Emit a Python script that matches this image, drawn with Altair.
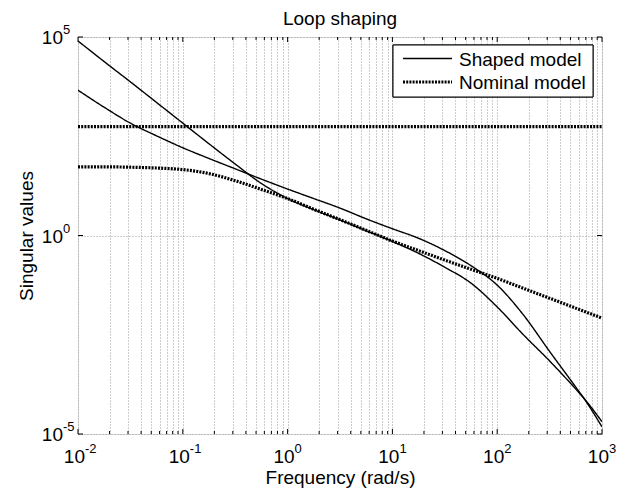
import altair as alt
import pandas as pd

# ---- data (log10 of frequency / singular value) ----
LOG_FREQ = [-2.0, -1.75, -1.5, -1.25, -1.0, -0.75, -0.5, -0.25, 0.0, 0.25, 0.5, 0.75,
            1.0, 1.25, 1.5, 1.75, 2.0, 2.25, 2.5, 2.75, 2.84, 3.0]
SHAPED_1 = [4.90, 4.38, 3.87, 3.35, 2.83, 2.31, 1.80, 1.31, 0.93, 0.65, 0.39, 0.12,
            -0.15, -0.45, -0.80, -1.20, -1.80, -2.50, -3.16, -3.87, -4.14, -4.69]
SHAPED_2 = [3.66, 3.23, 2.83, 2.51, 2.21, 1.94, 1.68, 1.42, 1.17, 0.93, 0.69, 0.42,
            0.17, -0.07, -0.38, -0.76, -1.25, -2.00, -2.92, -3.82, -4.15, -4.82]
NOMINAL_1 = [2.74, 2.74, 2.74, 2.74, 2.74, 2.74, 2.74, 2.74, 2.74, 2.74, 2.74, 2.74,
             2.74, 2.74, 2.74, 2.74, 2.74, 2.74, 2.74, 2.74, 2.74, 2.74]
NOMINAL_2 = [1.73, 1.73, 1.72, 1.70, 1.66, 1.56, 1.38, 1.16, 0.93, 0.66, 0.40, 0.13,
             -0.14, -0.38, -0.62, -0.85, -1.08, -1.33, -1.58, -1.83, -1.92, -2.08]

MODELS = ["Shaped model", "Nominal model"]
DASHES = [[1, 0], [2, 1.2]]
WIDTHS = [1.4, 3.2]
X_DECADES = [1e-2, 1e-1, 1e0, 1e1, 1e2, 1e3]
X_EXPONENTS = ["-2", "-1", "0", "1", "2", "3"]
X_MINOR = [m * d for d in [1e-2, 1e-1, 1e0, 1e1, 1e2] for m in range(2, 10)]
Y_DECADES = [1e-5, 1e0, 1e5]
Y_EXPONENTS = ["-5", "0", "5"]
TITLE = "Loop shaping"
X_TITLE = "Frequency (rad/s)"
Y_TITLE = "Singular values"

FONT = "Liberation Sans"
W, H = 524, 397

rows = []
for name, model, vals in [("s1", MODELS[0], SHAPED_1), ("s2", MODELS[0], SHAPED_2),
                          ("n1", MODELS[1], NOMINAL_1), ("n2", MODELS[1], NOMINAL_2)]:
    for lf, lv in zip(LOG_FREQ, vals):
        rows.append({"curve": name, "model": model, "freq": 10 ** lf, "sv": 10 ** lv})
df = pd.DataFrame(rows)

xscale = alt.Scale(type="log", domain=[1e-2, 1e3], nice=False)
yscale = alt.Scale(type="log", domain=[1e-5, 1e5], nice=False)

xaxis = alt.Axis(values=X_DECADES + X_MINOR, grid=True, gridDash=[1, 2], gridColor="#9a9a9a",
                 gridWidth=1, ticks=False, labels=False, domain=False,
                 title=X_TITLE, titleFont=FONT, titleFontSize=19,
                 titleFontWeight="normal", titleColor="black",
                 titleBaseline="alphabetic", titleY=49)
yaxis = alt.Axis(values=Y_DECADES, grid=True, gridDash=[1, 2], gridColor="#9a9a9a",
                 gridWidth=1, ticks=False, labels=False, domain=False,
                 title=Y_TITLE, titleFont=FONT, titleFontSize=19,
                 titleFontWeight="normal", titleColor="black",
                 titleBaseline="alphabetic", titleX=-46, titleY=H / 2, titleAngle=270)

lines = alt.Chart(df).mark_line(color="black", interpolate="monotone", clip=True).encode(
    x=alt.X("freq:Q", scale=xscale, axis=xaxis),
    y=alt.Y("sv:Q", scale=yscale, axis=yaxis),
    detail="curve:N",
    strokeDash=alt.StrokeDash("model:N", scale=alt.Scale(domain=MODELS, range=DASHES),
                              legend=None),
    strokeWidth=alt.StrokeWidth("model:N", scale=alt.Scale(domain=MODELS, range=WIDTHS),
                                legend=None),
    order=alt.Order("freq:Q"),
)

xl = pd.DataFrame({"freq": X_DECADES, "base": ["10"] * 6, "exp": X_EXPONENTS})
yl = pd.DataFrame({"sv": Y_DECADES, "base": ["10"] * 3, "exp": Y_EXPONENTS})
xminor = pd.DataFrame({"freq": X_MINOR})
xmajor = pd.DataFrame({"freq": X_DECADES})
ymajor = pd.DataFrame({"sv": Y_DECADES})

xbase = alt.Chart(xl).mark_text(align="right", baseline="alphabetic", font=FONT, fontSize=19,
                                dx=7, color="black").encode(
    x=alt.X("freq:Q", scale=xscale), y=alt.value(H + 29), text="base:N")
xexp = alt.Chart(xl).mark_text(align="left", baseline="alphabetic", font=FONT, fontSize=13,
                               dx=7, color="black").encode(
    x=alt.X("freq:Q", scale=xscale), y=alt.value(H + 19), text="exp:N")
ybase = alt.Chart(yl).mark_text(align="right", baseline="alphabetic", font=FONT, fontSize=19,
                                dy=7, color="black").encode(
    y=alt.Y("sv:Q", scale=yscale), x=alt.value(-15), text="base:N")
yexp = alt.Chart(yl).mark_text(align="left", baseline="alphabetic", font=FONT, fontSize=13,
                               dy=-3, color="black").encode(
    y=alt.Y("sv:Q", scale=yscale), x=alt.value(-15), text="exp:N")

tick_bot_major = alt.Chart(xmajor).mark_rule(color="black", strokeWidth=1).encode(
    x=alt.X("freq:Q", scale=xscale), y=alt.value(H), y2=alt.value(H - 5))
tick_top_major = alt.Chart(xmajor).mark_rule(color="black", strokeWidth=1).encode(
    x=alt.X("freq:Q", scale=xscale), y=alt.value(0), y2=alt.value(5))
tick_bot_minor = alt.Chart(xminor).mark_rule(color="black", strokeWidth=1).encode(
    x=alt.X("freq:Q", scale=xscale), y=alt.value(H), y2=alt.value(H - 3))
tick_top_minor = alt.Chart(xminor).mark_rule(color="black", strokeWidth=1).encode(
    x=alt.X("freq:Q", scale=xscale), y=alt.value(0), y2=alt.value(3))
tick_left = alt.Chart(ymajor).mark_rule(color="black", strokeWidth=1).encode(
    y=alt.Y("sv:Q", scale=yscale), x=alt.value(0), x2=alt.value(5))
tick_right = alt.Chart(ymajor).mark_rule(color="black", strokeWidth=1).encode(
    y=alt.Y("sv:Q", scale=yscale), x=alt.value(W), x2=alt.value(W - 5))

# title as a text mark centred over the plot area
title = alt.Chart(pd.DataFrame({"t": [TITLE]})).mark_text(
    align="center", baseline="alphabetic", font=FONT, fontSize=19, color="black"
).encode(x=alt.value(W / 2), y=alt.value(-12), text="t:N")

# legend box (MATLAB style, top-right inside the axes)
leg_df = pd.DataFrame({"model": MODELS})
legend_layers = [
    alt.Chart(leg_df).mark_rect(fill="white", stroke="black", strokeWidth=1).encode(
        x=alt.value(315), x2=alt.value(515), y=alt.value(8), y2=alt.value(60))
]
for i, (m, d, w) in enumerate(zip(MODELS, DASHES, WIDTHS)):
    yrow = 21.5 + 23.5 * i
    sub = alt.Chart(pd.DataFrame({"model": [m]}))
    legend_layers.append(sub.mark_rule(color="black", strokeWidth=w, strokeDash=d).encode(
        x=alt.value(325), x2=alt.value(374), y=alt.value(yrow)))
    legend_layers.append(sub.mark_text(align="left", baseline="middle", font=FONT, fontSize=19,
                                       color="black").encode(
        x=alt.value(381), y=alt.value(yrow + 1), text="model:N"))

chart = alt.layer(
    tick_bot_minor, tick_top_minor, tick_bot_major, tick_top_major, tick_left, tick_right,
    lines, xbase, xexp, ybase, yexp, title, *legend_layers,
).properties(
    width=W, height=H,
    autosize=alt.AutoSizeParams(type="none"),
    padding={"left": 70, "top": 29, "right": 17, "bottom": 55},
).configure_view(stroke="black", strokeWidth=1.5).configure(background="white")

chart.save("out.html", embed_options={"renderer": "svg", "actions": False})
